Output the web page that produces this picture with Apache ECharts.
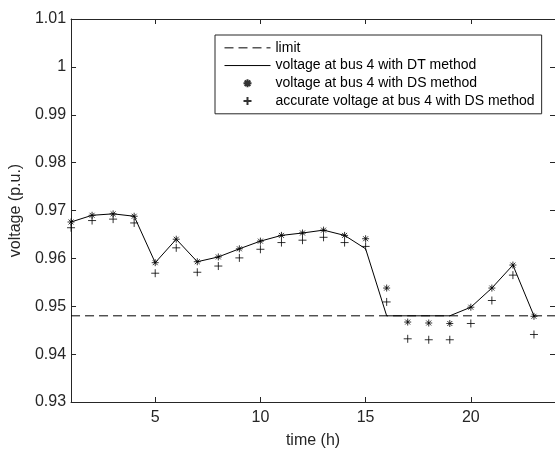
<!DOCTYPE html>
<html>
<head>
<meta charset="utf-8">
<script src="https://cdn.jsdelivr.net/npm/echarts@6/dist/echarts.min.js"></script>
<style>
html,body{margin:0;padding:0;overflow:hidden;background:#fff;}
#main{width:555px;height:454px;}
</style>
</head>
<body>
<div id="main"></div>
<script>
// ---- data ----
const time = [1,2,3,4,5,6,7,8,9,10,11,12,13,14,15,16,17,18,19,20,21,22,23];
const dtVoltage = [0.9676,0.9690,0.9693,0.9688,0.9591,0.9640,0.9593,0.9603,0.9620,0.9636,0.9648,0.9653,0.9659,0.9648,0.9620,0.9480,0.9480,0.9480,0.9480,0.9498,0.9538,0.9586,0.9480];
const dsVoltage = [0.9676,0.9690,0.9693,0.9688,0.9591,0.9640,0.9593,0.9603,0.9620,0.9636,0.9648,0.9653,0.9659,0.9648,0.9641,0.9538,0.9467,0.9465,0.9464,0.9498,0.9538,0.9586,0.9479];
const accurateVoltage = [0.9664,0.9679,0.9682,0.9674,0.9569,0.9622,0.9571,0.9584,0.9601,0.9619,0.9633,0.9638,0.9644,0.9633,0.9625,0.9509,0.9432,0.9430,0.9430,0.9464,0.9512,0.9565,0.9441];
const limitValue = 0.948;
const xTicks = [5,10,15,20];
const seriesNames = ['limit','voltage at bus 4 with DT method','voltage at bus 4 with DS method','accurate voltage at bus 4 with DS method'];
const xRange = [1,24];
const yRange = [0.93,1.01];
const yStep = 0.01;

const pair = (xs, ys) => xs.map((x,i)=>[x, ys[i]]);
const FONT = 'Liberation Sans, Arial, Helvetica, sans-serif';
const AX = '#262626';
const plusPath = 'path://M0 -4L0 4M-4 0L4 0';
const starPath = 'path://M0 -4L0 4M-4 0L4 0M-2.83 -2.83L2.83 2.83M-2.83 2.83L2.83 -2.83';
const hiddenSym = {color:'rgba(0,0,0,0)', borderColor:'rgba(0,0,0,0)', borderWidth:0};

const chart = echarts.init(document.getElementById('main'), null, {renderer:'canvas'});
const baseX = {
  type:'value', min:xRange[0], max:xRange[1],
  axisLine:{show:true, onZero:false, lineStyle:{color:AX, width:1}},
  splitLine:{show:false},
};
const baseY = {
  type:'value', min:yRange[0], max:yRange[1], interval:yStep,
  axisLine:{show:true, onZero:false, lineStyle:{color:AX, width:1}},
  splitLine:{show:false},
};
chart.setOption({
  animation:false,
  backgroundColor:'#fff',
  grid:{left:67, width:490, top:19, bottom:48, containLabel:false},
  xAxis:[
    Object.assign({}, baseX, {
      position:'bottom',
      name:'time (h)', nameLocation:'middle', nameGap:31,
      nameTextStyle:{fontSize:16, color:AX, fontFamily:FONT},
      axisTick:{show:true, inside:true, length:5, customValues:xTicks, lineStyle:{color:AX}},
      axisLabel:{show:true, customValues:xTicks, margin:8, fontSize:16, color:AX, fontFamily:FONT}
    }),
    Object.assign({}, baseX, {
      position:'top',
      axisTick:{show:true, inside:true, length:5, customValues:xTicks, lineStyle:{color:AX}},
      axisLabel:{show:false}
    })
  ],
  yAxis:[
    Object.assign({}, baseY, {
      position:'left',
      name:'voltage (p.u.)', nameLocation:'middle', nameGap:41,
      nameTextStyle:{fontSize:16, color:AX, fontFamily:FONT},
      axisTick:{show:true, inside:true, length:5, lineStyle:{color:AX}},
      axisLabel:{show:true, margin:5, fontSize:16, color:AX, fontFamily:FONT,
        formatter:v=>String(+v.toFixed(2))}
    }),
    Object.assign({}, baseY, {
      position:'right',
      axisTick:{show:true, inside:true, length:5, lineStyle:{color:AX}},
      axisLabel:{show:false}
    })
  ],
  legend:{
    left:215, top:35, orient:'vertical',
    data:[
      {name:seriesNames[0], itemStyle:hiddenSym, lineStyle:{width:1}},
      {name:seriesNames[1], itemStyle:hiddenSym, lineStyle:{width:1}},
      {name:seriesNames[2]},
      {name:seriesNames[3]}
    ],
    itemWidth:46, itemHeight:8, itemGap:0,
    padding:[4,7,4,9],
    borderColor:AX, borderWidth:1, backgroundColor:'#fff',
    textStyle:{fontSize:14, color:'#000', fontFamily:FONT, lineHeight:17.7},
    selectedMode:false
  },
  series:[
    {
      name:seriesNames[0], type:'line', symbol:'none',
      data:pair(xRange, [limitValue, limitValue]),
      lineStyle:{color:'#000', width:1, type:[9,5]},
      itemStyle:{color:'#000'}, z:2
    },
    {
      name:seriesNames[1], type:'line', symbol:'none',
      data:pair(time, dtVoltage),
      lineStyle:{color:'#000', width:1},
      itemStyle:{color:'#000'}, z:3
    },
    {
      name:seriesNames[2], type:'scatter', symbol:starPath, symbolSize:7,
      data:pair(time, dsVoltage),
      itemStyle:{color:'none', borderColor:'#000', borderWidth:1}, z:4
    },
    {
      name:seriesNames[3], type:'scatter', symbol:plusPath, symbolSize:8,
      data:pair(time, accurateVoltage),
      itemStyle:{color:'none', borderColor:'#000', borderWidth:1}, z:4
    }
  ]
});
</script>
</body>
</html>
